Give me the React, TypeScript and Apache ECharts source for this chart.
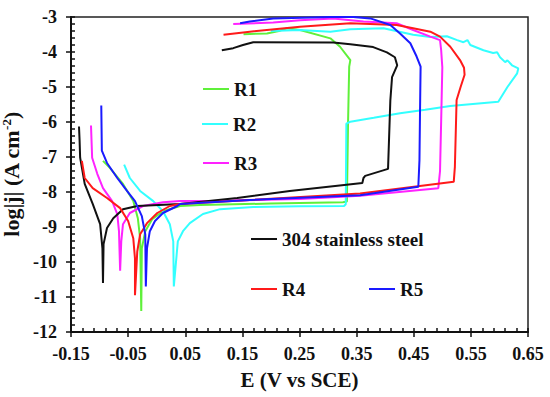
import React, { useEffect, useRef } from 'react';
import * as echarts from 'echarts';

// Tick labels
const xTickValues = [-0.15, -0.05, 0.05, 0.15, 0.25, 0.35, 0.45, 0.55, 0.65];
const yMin = -12;
const yMax = -3;

// Series names / colours
const seriesNames = ['R1', 'R2', 'R3', '304 stainless steel', 'R4', 'R5'];
const seriesColors = ['#5ff03a', '#33ffff', '#ff22ff', '#111111', '#ff1a1a', '#1a1aff'];

// [E (V vs SCE), log|j|]
const r1 = [
  [-0.094, -7.11], [-0.082, -7.31], [-0.059, -7.77], [-0.041, -8.26], [-0.033, -8.75], [-0.029, -9.32], [-0.027, -11.4],
  [-0.026, -9.61], [-0.020, -9.12], [-0.008, -8.78], [0.011, -8.55], [0.041, -8.40], [0.076, -8.37], [0.20, -8.33],
  [0.326, -8.29], [0.333, -8.27], [0.335, -6.0], [0.337, -4.42], [0.339, -4.23], [0.321, -3.85], [0.304, -3.61],
  [0.251, -3.37], [0.228, -3.32], [0.216, -3.39], [0.193, -3.47], [0.152, -3.49],
];
const r2 = [
  [-0.057, -7.22], [-0.047, -7.60], [-0.029, -7.97], [-0.006, -8.26], [0.011, -8.55], [0.023, -8.92], [0.029, -9.41], [0.030, -10.7],
  [0.037, -9.41], [0.046, -9.12], [0.058, -8.89], [0.081, -8.63], [0.111, -8.49], [0.169, -8.43], [0.25, -8.41],
  [0.328, -8.40], [0.331, -8.35], [0.332, -6.05], [0.339, -5.99], [0.38, -5.88], [0.426, -5.75], [0.47, -5.65],
  [0.514, -5.54], [0.598, -5.42], [0.614, -5.0], [0.631, -4.61], [0.633, -4.47], [0.622, -4.38], [0.614, -4.24],
  [0.610, -4.29], [0.601, -4.15], [0.596, -4.01], [0.589, -4.03], [0.572, -3.95], [0.549, -3.80], [0.544, -3.66],
  [0.537, -3.72], [0.526, -3.66], [0.508, -3.55], [0.479, -3.57], [0.449, -3.51], [0.397, -3.32], [0.339, -3.35],
  [0.304, -3.42], [0.25, -3.37], [0.20, -3.40],
];
const r3 = [
  [-0.115, -6.10], [-0.113, -7.02], [-0.104, -7.48], [-0.094, -7.89], [-0.078, -8.26], [-0.069, -8.63], [-0.066, -9.12], [-0.064, -10.25],
  [-0.062, -9.41], [-0.059, -8.92], [-0.047, -8.60], [-0.024, -8.40], [0.011, -8.29], [0.041, -8.26], [0.111, -8.25],
  [0.251, -8.20], [0.356, -8.11], [0.493, -7.89], [0.496, -7.40], [0.498, -5.96], [0.500, -4.44], [0.498, -3.95],
  [0.496, -3.66], [0.479, -3.56], [0.449, -3.37], [0.420, -3.18], [0.362, -3.13], [0.309, -3.04], [0.251, -3.09],
  [0.204, -3.16], [0.134, -3.20],
];
const ss304 = [
  [-0.136, -6.13], [-0.135, -6.51], [-0.134, -7.02], [-0.126, -7.77], [-0.112, -8.34], [-0.099, -8.92], [-0.095, -9.61], [-0.094, -10.6],
  [-0.093, -9.49], [-0.087, -9.03], [-0.076, -8.75], [-0.059, -8.49], [-0.034, -8.40], [0.041, -8.34], [0.141, -8.17],
  [0.233, -7.97], [0.36, -7.74], [0.362, -7.60], [0.365, -7.54], [0.405, -7.34], [0.409, -5.39], [0.412, -4.72],
  [0.421, -4.38], [0.417, -4.15], [0.403, -4.01], [0.379, -3.86], [0.339, -3.78], [0.309, -3.73], [0.169, -3.72],
  [0.151, -3.80], [0.134, -3.89], [0.114, -3.95],
];
const r4 = [
  [-0.131, -7.11], [-0.126, -7.60], [-0.112, -7.89], [-0.087, -8.17], [-0.064, -8.46], [-0.050, -8.83], [-0.041, -9.32], [-0.038, -9.90], [-0.038, -10.95],
  [-0.034, -9.70], [-0.029, -9.21], [-0.017, -8.89], [0.001, -8.60], [0.023, -8.40], [0.041, -8.34], [0.163, -8.23],
  [0.356, -8.04], [0.520, -7.71], [0.522, -7.28], [0.525, -5.37], [0.532, -5.0], [0.539, -4.65], [0.538, -4.45],
  [0.531, -4.23], [0.514, -3.85], [0.496, -3.56], [0.479, -3.42], [0.449, -3.32], [0.420, -3.23], [0.339, -3.18],
  [0.251, -3.28], [0.163, -3.42], [0.117, -3.51],
];
const r5 = [
  [-0.097, -5.53], [-0.096, -6.82], [-0.087, -7.17], [-0.069, -7.60], [-0.052, -7.97], [-0.038, -8.26], [-0.026, -8.69], [-0.020, -9.21], [-0.019, -10.7],
  [-0.017, -9.61], [-0.012, -9.12], [-0.003, -8.83], [0.011, -8.60], [0.036, -8.40], [0.041, -8.34], [0.163, -8.23],
  [0.356, -8.09], [0.458, -7.85], [0.460, -7.09], [0.461, -5.67], [0.462, -4.42], [0.455, -4.13], [0.444, -3.75],
  [0.426, -3.47], [0.409, -3.23], [0.374, -3.04], [0.339, -2.99], [0.304, -3.0], [0.204, -3.04], [0.163, -3.13],
  [0.146, -3.18],
];

const seriesData = [r1, r2, r3, ss304, r4, r5];

// legend placement (pixels)
const legendPos = [
  { left: 203, top: 79 },
  { left: 202, top: 114 },
  { left: 203, top: 153 },
  { left: 251, top: 229 },
  { left: 251, top: 279 },
  { left: 369, top: 279 },
];

const FONT = 'Liberation Serif';

function buildMinor(ticks: number[], parts: number) {
  const out: number[] = [];
  for (let i = 0; i < ticks.length - 1; i++) {
    const step = (ticks[i + 1] - ticks[i]) / parts;
    for (let k = 0; k < parts; k++) out.push(Math.round((ticks[i] + k * step) * 10000) / 10000);
  }
  out.push(ticks[ticks.length - 1]);
  return out;
}

export default function App() {
  const ref = useRef<HTMLDivElement>(null);
  useEffect(() => {
    if (!ref.current) return;
    const chart = echarts.init(ref.current, null, { renderer: 'svg' });
    const yMajor: number[] = [];
    for (let v = yMin; v <= yMax; v++) yMajor.push(v);
    const xMinor = buildMinor(xTickValues, 5);
    const yMinor = buildMinor(yMajor, 5);
    const legendCommon = {
      orient: 'horizontal',
      padding: 0,
      icon: 'rect',
      itemWidth: 26,
      itemHeight: 2,
      selectedMode: false,
      textStyle: { fontFamily: FONT, fontWeight: 'bold', fontSize: 19, color: '#111', lineHeight: 20 },
    };
    const axisTextStyle = { fontFamily: FONT, fontWeight: 'bold', fontSize: 18, color: '#111' };
    chart.setOption({
      animation: false,
      backgroundColor: '#fff',
      grid: {
        left: 71, right: 22, top: 17, bottom: 65,
        show: true, borderColor: '#222', borderWidth: 1.5,
        outerBoundsMode: 'none',
      },
      legend: seriesNames.map((n, i) => ({ ...legendCommon, data: [n], left: legendPos[i].left, top: legendPos[i].top })),
      xAxis: [
        {
          type: 'value', min: -0.15, max: 0.65, position: 'bottom',
          name: 'E (V vs SCE)', nameLocation: 'middle', nameGap: 37,
          nameTextStyle: { fontFamily: FONT, fontWeight: 'bold', fontSize: 21, color: '#111' },
          axisLine: { show: true, onZero: false, lineStyle: { color: '#111', width: 2 } },
          axisTick: { show: true, inside: false, length: 5, customValues: xTickValues, lineStyle: { color: '#111', width: 1.5 } },
          axisLabel: { ...axisTextStyle, margin: 13, customValues: xTickValues, formatter: (v: number) => v.toFixed(2) },
          splitLine: { show: false },
        },
        {
          type: 'value', min: -0.15, max: 0.65, position: 'bottom',
          axisLine: { show: false, onZero: false },
          axisTick: { show: true, inside: true, length: 4, customValues: xMinor, lineStyle: { color: '#111', width: 1.5 } },
          axisLabel: { show: false },
          splitLine: { show: false },
        },
      ],
      yAxis: [
        {
          type: 'value', min: yMin, max: yMax, interval: 1, position: 'left',
          name: 'log|j| (A cm{sup|-2})', nameLocation: 'middle', nameGap: 37,
          nameTextStyle: {
            fontFamily: FONT, fontWeight: 'bold', fontSize: 22, color: '#111',
            rich: { sup: { fontFamily: FONT, fontWeight: 'bold', fontSize: 13, color: '#111', verticalAlign: 'top', lineHeight: 13 } },
          },
          axisLine: { show: true, onZero: false, lineStyle: { color: '#111', width: 2 } },
          axisTick: { show: true, inside: false, length: 5, lineStyle: { color: '#111', width: 1.5 } },
          axisLabel: { ...axisTextStyle, margin: 14 },
          splitLine: { show: false },
        },
        {
          type: 'value', min: yMin, max: yMax, position: 'left',
          axisLine: { show: false, onZero: false },
          axisTick: { show: true, inside: true, length: 4, customValues: yMinor, lineStyle: { color: '#111', width: 1.5 } },
          axisLabel: { show: false },
          splitLine: { show: false },
        },
      ],
      series: seriesNames.map((n, i) => ({
        name: n,
        type: 'line',
        xAxisIndex: 0,
        yAxisIndex: 0,
        data: seriesData[i],
        color: seriesColors[i],
        showSymbol: false,
        symbol: 'none',
        lineStyle: { color: seriesColors[i], width: 2 },
        clip: true,
      })),
    });
    return () => chart.dispose();
  }, []);
  return <div ref={ref} style={{ position: 'fixed', left: 0, top: 0, width: 550, height: 397, background: '#fff' }} />;
}
